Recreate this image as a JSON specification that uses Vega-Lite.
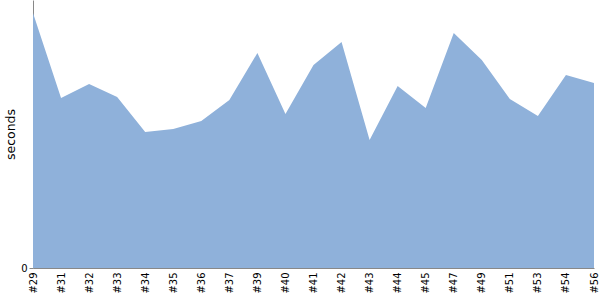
{
  "$schema": "https://vega.github.io/schema/vega-lite/v6.json",
  "width": 561,
  "height": 268,
  "autosize": {"type": "none"},
  "padding": {"left": 33, "top": 0, "right": 6, "bottom": 32},
  "config": {"view": {"stroke": null}, "font": "DejaVu Sans"},
  "data": {"values": [
    {"build": "#29", "seconds": 255},
    {"build": "#31", "seconds": 170},
    {"build": "#32", "seconds": 184},
    {"build": "#33", "seconds": 171},
    {"build": "#34", "seconds": 136},
    {"build": "#35", "seconds": 139},
    {"build": "#36", "seconds": 147},
    {"build": "#37", "seconds": 168},
    {"build": "#39", "seconds": 215},
    {"build": "#40", "seconds": 154},
    {"build": "#41", "seconds": 203},
    {"build": "#42", "seconds": 226},
    {"build": "#43", "seconds": 128},
    {"build": "#44", "seconds": 182},
    {"build": "#45", "seconds": 160},
    {"build": "#47", "seconds": 235},
    {"build": "#49", "seconds": 208},
    {"build": "#51", "seconds": 169},
    {"build": "#53", "seconds": 152},
    {"build": "#54", "seconds": 193},
    {"build": "#56", "seconds": 185}
  ]},
  "mark": {"type": "area", "color": "#8fb1da", "opacity": 1},
  "encoding": {
    "x": {
      "field": "build", "type": "ordinal", "sort": null,
      "scale": {"type": "point", "padding": 0},
      "axis": {"title": null, "labelAngle": -90, "ticks": false, "labelPadding": 4, "labelFontSize": 10, "labelColor": "#000", "domainColor": "#888", "labelFont": "DejaVu Sans"}
    },
    "y": {
      "field": "seconds", "type": "quantitative",
      "scale": {"domain": [0, 268], "nice": false},
      "axis": {"title": "seconds", "values": [0], "grid": false, "labelFontSize": 10, "labelColor": "#000", "domainColor": "#888", "tickColor": "#888", "tickSize": 4, "titleFontSize": 12.5, "titleFontWeight": "normal", "titleColor": "#000", "titleFont": "DejaVu Sans", "titlePadding": 3, "labelFont": "DejaVu Sans"}
    }
  }
}
